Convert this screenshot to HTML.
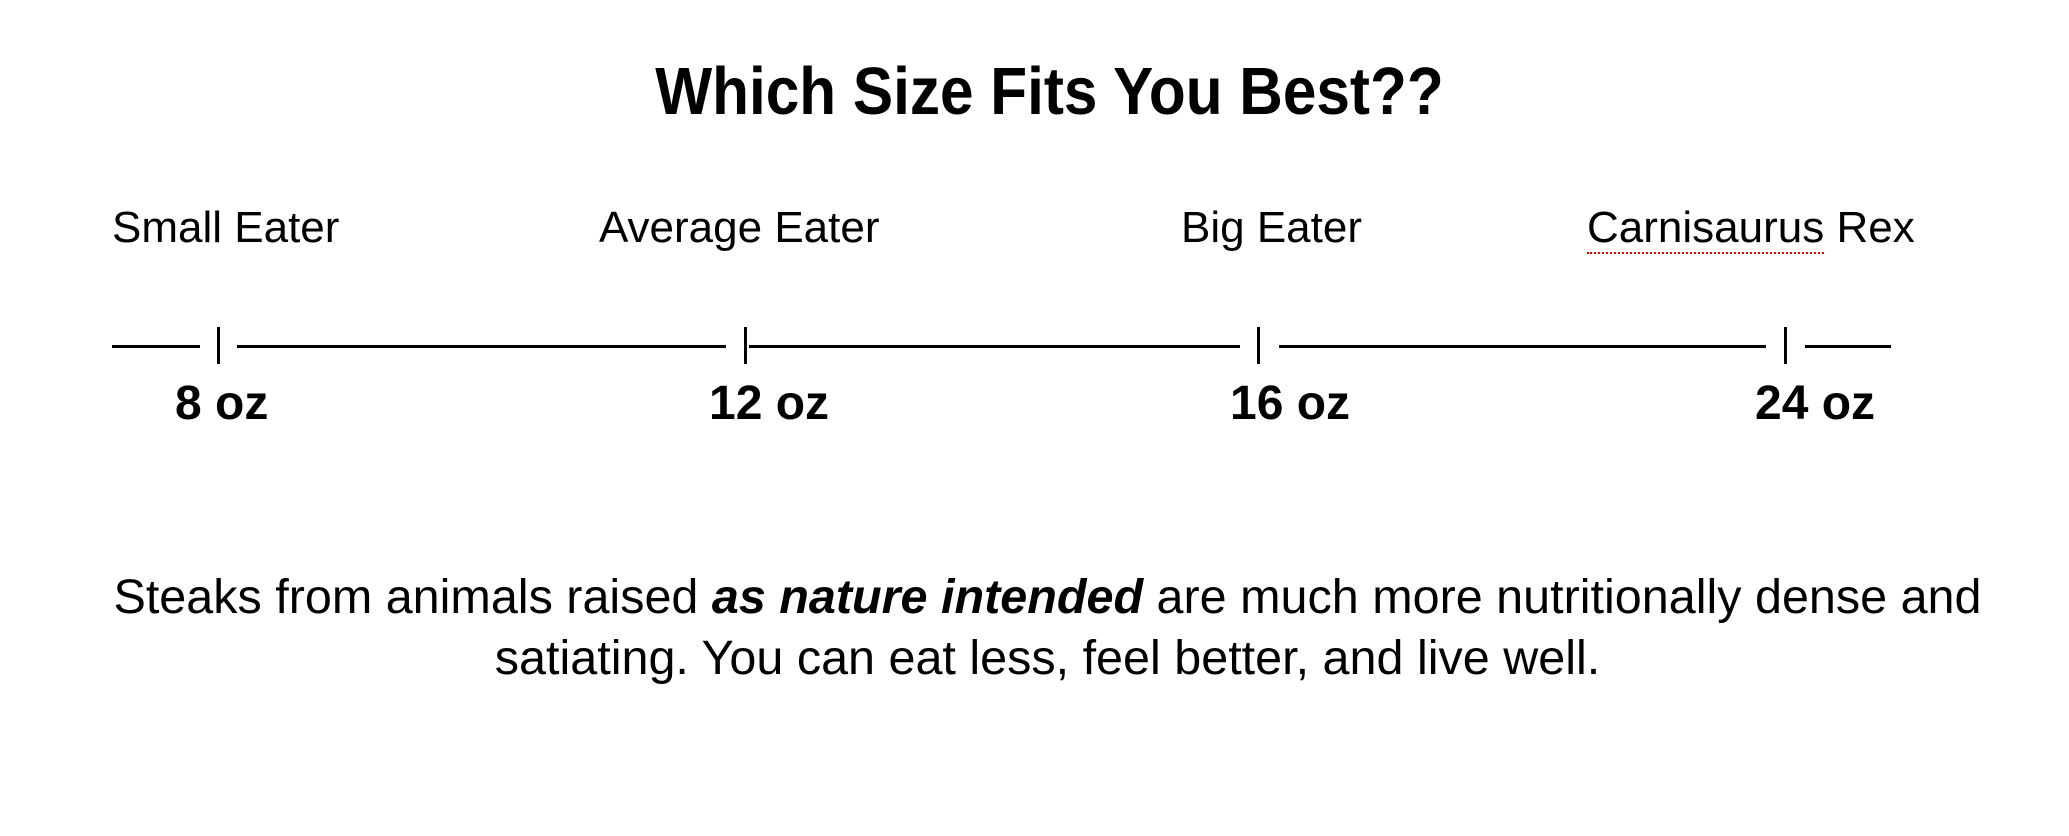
<!DOCTYPE html>
<html><head><meta charset="utf-8"><style>
body{margin:0;width:2069px;height:836px;background:#fff;position:relative;overflow:hidden;font-family:"Liberation Sans",Arial,sans-serif;color:#000}
.t{position:absolute;line-height:1;white-space:nowrap}
.h{position:absolute;height:3px;background:#000;top:345px}
.v{position:absolute;width:3px;background:#000;top:327px;height:37px}
</style></head><body>
<div class="t" style="left:0;width:2069px;text-align:center;top:58px;font-size:67px;font-weight:bold;padding-left:30px;box-sizing:border-box;transform:scaleX(0.9);transform-origin:1049px 0">Which Size Fits You Best??</div>
<div class="t" style="left:112px;top:206px;font-size:44px">Small Eater</div>
<div class="t" style="left:599px;top:206px;font-size:44px">Average Eater</div>
<div class="t" style="left:1181px;top:206px;font-size:44px">Big Eater</div>
<div class="t" style="left:1587px;top:206px;font-size:44px"><span style="border-bottom:2px dotted #d00;padding-bottom:0">Carnisaurus</span> Rex</div>
<div class="h" style="left:112px;width:88px"></div>
<div class="v" style="left:217px"></div>
<div class="h" style="left:237px;width:489px"></div>
<div class="v" style="left:744px"></div>
<div class="h" style="left:749px;width:491px"></div>
<div class="v" style="left:1257px"></div>
<div class="h" style="left:1279px;width:487px"></div>
<div class="v" style="left:1784px"></div>
<div class="h" style="left:1805px;width:86px"></div>
<div class="t" style="left:175px;top:380px;font-size:48px;font-weight:bold">8 oz</div>
<div class="t" style="left:709px;top:380px;font-size:48px;font-weight:bold">12 oz</div>
<div class="t" style="left:1230px;top:380px;font-size:48px;font-weight:bold">16 oz</div>
<div class="t" style="left:1755px;top:380px;font-size:48px;font-weight:bold">24 oz</div>
<div class="t" style="left:0;width:2069px;text-align:center;top:573px;font-size:48.5px;padding-left:26px;box-sizing:border-box">Steaks from animals raised <b><i>as nature intended</i></b> are much more nutritionally dense and</div>
<div class="t" style="left:0;width:2069px;text-align:center;top:634px;font-size:48.5px;padding-left:26px;box-sizing:border-box">satiating. You can eat less, feel better, and live well.</div>
</body></html>
